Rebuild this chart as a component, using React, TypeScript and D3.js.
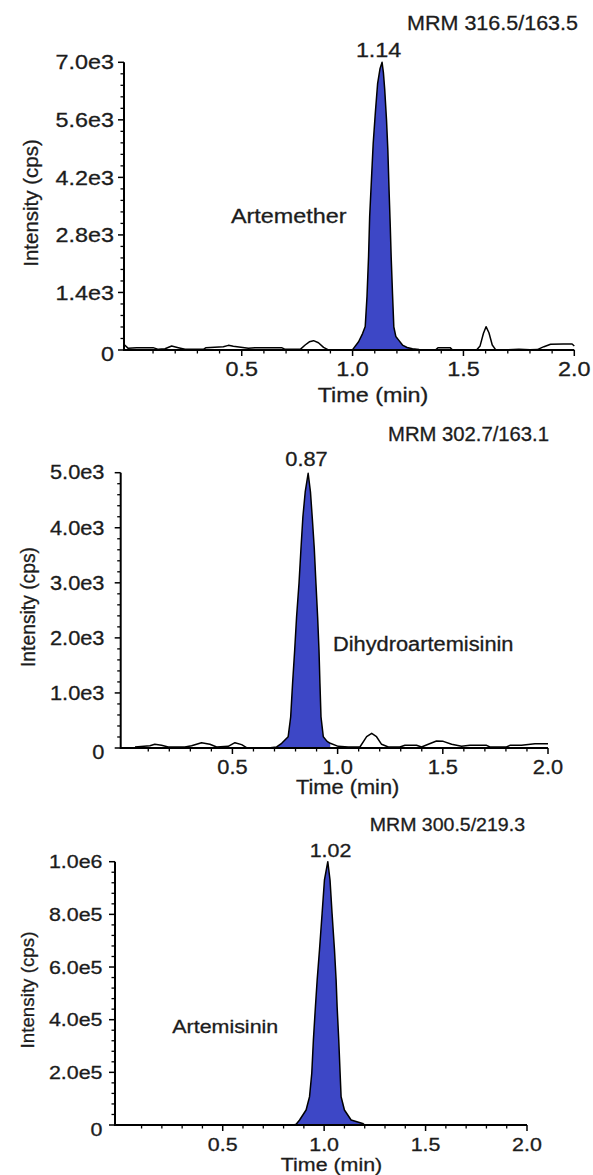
import React from "react";
import * as d3 from "d3";

type Pt = [number, number];

// ---------- shared axis values ----------
const xDomain: [number, number] = [-0.031, 2.0];
const xTickValues = [0.5, 1.0, 1.5, 2.0];
const xTickLabels = ["0.5", "1.0", "1.5", "2.0"];
const xMinorTicks = [0.1, 0.2, 0.3, 0.4, 0.6, 0.7, 0.8, 0.9, 1.1, 1.2, 1.3, 1.4, 1.6, 1.7, 1.8, 1.9];

// ---------- Artemether (MRM 316.5/163.5) ----------
const artemetherTitle = "MRM 316.5/163.5";
const artemetherName = "Artemether";
const artemetherApex = "1.14";
const artemetherYTicks = [0, 1400, 2800, 4200, 5600, 7000];
const artemetherYLabels = ["0", "1.4e3", "2.8e3", "4.2e3", "5.6e3", "7.0e3"];
const artemetherPeakRange: [number, number] = [1.0, 1.3];
const artemetherTrace: Pt[] = [
  [-0.028, 120], [-0.012, 40], [0.026, 57], [0.1, 57], [0.124, 16], [0.154, 32], [0.184, 97],
  [0.214, 57], [0.244, 16], [0.327, 16], [0.339, 57], [0.417, 81], [0.44, 113], [0.462, 89],
  [0.53, 41], [0.56, 57], [0.68, 57], [0.696, 16], [0.764, 16], [0.786, 122], [0.805, 200],
  [0.824, 227], [0.846, 178], [0.869, 65], [0.891, 5], [0.95, 0], [1.0, 8],
  [1.027, 200], [1.045, 400], [1.057, 570], [1.065, 1300], [1.072, 2270], [1.077, 3240],
  [1.085, 4140], [1.093, 5030], [1.103, 5800], [1.113, 6490], [1.124, 6850], [1.133, 7000],
  [1.139, 6750], [1.145, 6330], [1.153, 5600], [1.159, 4870], [1.165, 3810], [1.17, 3000],
  [1.174, 2270], [1.18, 1380], [1.186, 560], [1.195, 330], [1.208, 240], [1.225, 120],
  [1.246, 60], [1.27, 30], [1.3, 12], [1.33, 3], [1.375, 3], [1.385, 57], [1.44, 57],
  [1.45, 5], [1.56, 5], [1.575, 100], [1.59, 400], [1.602, 567], [1.615, 420], [1.63, 120],
  [1.645, 10], [1.7, 5], [1.75, 20], [1.8, 5], [1.833, 10], [1.863, 81], [1.893, 138],
  [1.95, 146], [1.99, 146], [2.0, 97],
];

// ---------- Dihydroartemisinin (MRM 302.7/163.1) ----------
const dhaTitle = "MRM 302.7/163.1";
const dhaName = "Dihydroartemisinin";
const dhaApex = "0.87";
const dhaYTicks = [0, 1000, 2000, 3000, 4000, 5000];
const dhaYLabels = ["0", "1.0e3", "2.0e3", "3.0e3", "4.0e3", "5.0e3"];
const dhaPeakRange: [number, number] = [0.71, 0.965];
const dhaTrace: Pt[] = [
  [0.037, 18], [0.108, 42], [0.131, 67], [0.163, 49], [0.195, 18], [0.274, 18], [0.306, 42],
  [0.353, 97], [0.393, 67], [0.425, 18], [0.48, 30], [0.512, 97], [0.544, 61], [0.567, 6],
  [0.68, 5], [0.71, 20], [0.734, 85], [0.765, 205], [0.777, 568], [0.786, 1175], [0.796, 1780],
  [0.805, 2384], [0.8165, 2991], [0.826, 3632], [0.835, 4200], [0.846, 4650], [0.86, 4990],
  [0.871, 4650], [0.881, 4100], [0.889, 3632], [0.897, 2991], [0.905, 2384], [0.9115, 1780],
  [0.916, 1175], [0.921, 568], [0.932, 205], [0.95, 120], [0.965, 85], [1.003, 30], [1.05, 18],
  [1.106, 18], [1.138, 205], [1.162, 266], [1.185, 205], [1.209, 67], [1.241, 18], [1.296, 18],
  [1.32, 49], [1.375, 49], [1.399, 18], [1.431, 67], [1.47, 127], [1.502, 121], [1.542, 67],
  [1.589, 30], [1.629, 49], [1.708, 49], [1.724, 18], [1.803, 18], [1.819, 49], [1.874, 49],
  [1.938, 79], [2.0, 79],
];

// ---------- Artemisinin (MRM 300.5/219.3) ----------
const artTitle = "MRM 300.5/219.3";
const artName = "Artemisinin";
const artApex = "1.02";
const artYTicks = [0, 200000, 400000, 600000, 800000, 1000000];
const artYLabels = ["0", "2.0e5", "4.0e5", "6.0e5", "8.0e5", "1.0e6"];
const artPeakRange: [number, number] = [0.85, 1.2];
const artTrace: Pt[] = [
  [-0.03, 0], [0.5, 0], [0.85, 0], [0.862, 3000], [0.879, 19000], [0.911, 57000],
  [0.928, 107500], [0.939, 196400], [0.947, 322800], [0.957, 449300], [0.9656, 550700],
  [0.977, 664600], [0.99, 804000], [1.0015, 930500], [1.018, 1000000], [1.029, 930500],
  [1.039, 804000], [1.051, 664600], [1.059, 550700], [1.064, 449300], [1.072, 322800],
  [1.0787, 196400], [1.0836, 107500], [1.1, 57000], [1.133, 19000], [1.19, 6000], [1.2, 0],
  [2.0, 0],
];

const FONT = "Arial, 'Liberation Sans', Helvetica, sans-serif";
const INK = "#1c1c1c";
const BLUE = "#3d47c6";

type Layout = {
  left: number; right: number; top: number; bottom: number;
  yLabelRight: number; fs: number; sx: number; titleSx: number;
  title: [number, number]; apex: [number, number]; name: [number, number];
  time: [number, number]; ylab: [number, number];
};

const layouts: Layout[] = [
  { left: 124, right: 574.3, top: 62.3, bottom: 350, yLabelRight: 114, fs: 20.5, sx: 1.14, titleSx: 1.05,
    title: [578, 30], apex: [378.6, 57], name: [231, 223], time: [373, 402], ylab: [37.5, 203] },
  { left: 120.7, right: 548, top: 472.7, bottom: 748, yLabelRight: 104.5, fs: 19.3, sx: 1.13, titleSx: 1.05,
    title: [549, 441], apex: [306.5, 466], name: [333, 651], time: [347.6, 794], ylab: [34.5, 607] },
  { left: 115, right: 527, top: 861.7, bottom: 1125, yLabelRight: 102.5, fs: 18.8, sx: 1.14, titleSx: 1.04,
    title: [525, 831], apex: [330.5, 857], name: [172.3, 1033], time: [331.5, 1171], ylab: [34, 990] },
];

function Txt(props: { x: number; y: number; size: number; anchor?: string; rotate?: number; sx?: number; children: React.ReactNode }) {
  const { x, y, size, anchor = "start", rotate = 0, sx = 1, children } = props;
  const tf = rotate ? `translate(${x},${y}) rotate(${rotate})` : `translate(${x},${y}) scale(${sx},1)`;
  return (
    <text
      transform={tf}
      textAnchor={anchor}
      fontSize={size}
      fontFamily={FONT}
      fill={INK}
      stroke={INK}
      strokeWidth={0.3}
    >
      {children}
    </text>
  );
}

function Panel(props: {
  layout: Layout; trace: Pt[]; peak: [number, number]; yTicks: number[]; yLabels: string[];
  title: string; name: string; apex: string;
}) {
  const { layout: L, trace, peak, yTicks, yLabels, title, name, apex } = props;
  const x = d3.scaleLinear().domain(xDomain).range([L.left, L.right]);
  const yMax = yTicks[yTicks.length - 1];
  const y = d3.scaleLinear().domain([0, yMax]).range([L.bottom, L.top]);

  const line = d3.line<Pt>().x((d) => x(d[0])).y((d) => y(d[1]));
  const area = d3.area<Pt>().x((d) => x(d[0])).y0(y(0)).y1((d) => y(d[1]));
  const peakPts = trace.filter((d) => d[0] >= peak[0] && d[0] <= peak[1]);

  const yMinor: number[] = [];
  for (let i = 0; i < yTicks.length - 1; i++) {
    const step = (yTicks[i + 1] - yTicks[i]) / 5;
    for (let k = 1; k < 5; k++) yMinor.push(yTicks[i] + k * step);
  }
  const fs = L.fs;

  return (
    <g>
      <path d={area(peakPts) || ""} fill={BLUE} stroke="none" />
      <path d={line(trace) || ""} fill="none" stroke="#000" strokeWidth={1.5} strokeLinejoin="round" />
      {/* axes */}
      <line x1={x(xDomain[0])} x2={x(2.0)} y1={y(0)} y2={y(0)} stroke="#000" strokeWidth={2.2} />
      <line x1={L.left} x2={L.left} y1={y(0) + 1} y2={y(yMax)} stroke="#000" strokeWidth={2} />
      {yTicks.map((v) => (
        <line key={"ym" + v} x1={L.left - 6} x2={L.left} y1={y(v)} y2={y(v)} stroke="#000" strokeWidth={1.5} />
      ))}
      {yMinor.map((v) => (
        <line key={"yn" + v} x1={L.left - 3.5} x2={L.left} y1={y(v)} y2={y(v)} stroke="#000" strokeWidth={1.3} />
      ))}
      {xTickValues.map((v) => (
        <line key={"xm" + v} x1={x(v)} x2={x(v)} y1={y(0)} y2={y(0) + 6} stroke="#000" strokeWidth={1.5} />
      ))}
      {xMinorTicks.map((v) => (
        <line key={"xn" + v} x1={x(v)} x2={x(v)} y1={y(0)} y2={y(0) + 3.5} stroke="#000" strokeWidth={1.3} />
      ))}
      {yTicks.map((v, i) => (
        <Txt key={"yl" + v} x={L.yLabelRight} y={y(v) + fs * 0.35 + (v === 0 ? 4 : 0)} size={fs} sx={L.sx} anchor="end">
          {yLabels[i]}
        </Txt>
      ))}
      {xTickValues.map((v, i) => (
        <Txt key={"xl" + v} x={x(v)} y={y(0) + 26} size={fs} sx={L.sx} anchor="middle">
          {xTickLabels[i]}
        </Txt>
      ))}
      <Txt x={L.title[0]} y={L.title[1]} size={fs} sx={L.titleSx} anchor="end">{title}</Txt>
      <Txt x={L.apex[0]} y={L.apex[1]} size={fs} sx={L.sx} anchor="middle">{apex}</Txt>
      <Txt x={L.name[0]} y={L.name[1]} size={fs} sx={L.sx}>{name}</Txt>
      <Txt x={L.time[0]} y={L.time[1]} size={fs} sx={L.sx} anchor="middle">Time (min)</Txt>
      <Txt x={L.ylab[0]} y={L.ylab[1]} size={fs} anchor="middle" rotate={-90}>Intensity (cps)</Txt>
    </g>
  );
}

export default function App() {
  return (
    <svg
      width={593}
      height={1175}
      style={{ position: "absolute", left: 0, top: 0, background: "#fff" }}
    >
      <rect x={0} y={0} width={593} height={1175} fill="#fff" />
      <Panel layout={layouts[0]} trace={artemetherTrace} peak={artemetherPeakRange}
        yTicks={artemetherYTicks} yLabels={artemetherYLabels}
        title={artemetherTitle} name={artemetherName} apex={artemetherApex} />
      <Panel layout={layouts[1]} trace={dhaTrace} peak={dhaPeakRange}
        yTicks={dhaYTicks} yLabels={dhaYLabels}
        title={dhaTitle} name={dhaName} apex={dhaApex} />
      <Panel layout={layouts[2]} trace={artTrace} peak={artPeakRange}
        yTicks={artYTicks} yLabels={artYLabels}
        title={artTitle} name={artName} apex={artApex} />
    </svg>
  );
}
